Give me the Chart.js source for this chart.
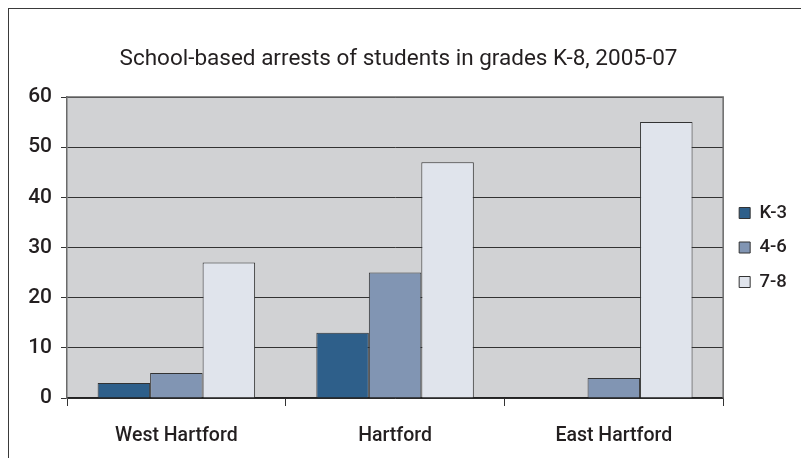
<!DOCTYPE html>
<html>
<head>
<meta charset="utf-8">
<script src="https://cdn.jsdelivr.net/npm/chart.js@4"></script>
<style>
  html, body { margin: 0; padding: 0; background: #fff; }
  #wrap { position: relative; width: 801px; height: 458px; overflow: hidden; }
  #frame { position: absolute; left: 8px; top: 8px; width: 820px; height: 480px;
           border-top: 1.5px solid #3a3a3a; border-left: 1.5px solid #3a3a3a; }
  canvas { position: absolute; left: 0; top: 0; }
</style>
</head>
<body>
<div id="wrap">
  <div id="frame"></div>
  <canvas id="chart" width="801" height="458"></canvas>
</div>
<script>
// ─── Data ─────────────────────────────────────────────────────────────────────
const towns = ['West Hartford', 'Hartford', 'East Hartford'];
const gradeK3 = [3, 13, 0];
const grade46 = [5, 25, 4];
const grade78 = [27, 47, 55];
const yTicks = [0, 10, 20, 30, 40, 50, 60];

// ─── Plot area background + frame ────────────────────────────────────────────
const plotBg = {
  id: 'plotBg',
  beforeDraw(chart) {
    const { ctx, chartArea: a } = chart;
    ctx.save();
    ctx.fillStyle = '#d1d2d4';
    ctx.fillRect(a.left, a.top, a.right - a.left, a.bottom - a.top);
    ctx.restore();
  },
  afterDatasetsDraw(chart) {
    const { ctx, chartArea: a } = chart;
    ctx.save();
    ctx.strokeStyle = '#6a6a6a';
    ctx.lineWidth = 1.5;
    ctx.beginPath();
    ctx.moveTo(a.left, a.top);
    ctx.lineTo(a.right, a.top);
    ctx.lineTo(a.right, a.bottom);
    ctx.stroke();
    ctx.restore();
  }
};

const font = 'Roboto, "DejaVu Sans", sans-serif';

new Chart(document.getElementById('chart'), {
  type: 'bar',
  data: {
    labels: towns,
    datasets: [
      { label: 'K-3', data: gradeK3, backgroundColor: '#2e5f8a' },
      { label: '4-6', data: grade46, backgroundColor: '#8195b3' },
      { label: '7-8', data: grade78, backgroundColor: '#e0e4ec' }
    ]
  },
  options: {
    responsive: false,
    animation: false,
    layout: { padding: { left: 0, right: 4, top: 0, bottom: 0 } },
    datasets: {
      bar: { categoryPercentage: 0.72, barPercentage: 1, borderColor: '#333', borderWidth: 1 }
    },
    plugins: {
      title: {
        display: true,
        text: 'School-based arrests of students in grades K-8, 2005-07',
        color: '#231f20',
        font: { family: font, size: 22.5, weight: 'normal' },
        padding: { top: 46, bottom: 24 }
      },
      legend: {
        position: 'right',
        align: 'center',
        fullSize: false,
        labels: {
          color: '#231f20',
          font: { family: font, size: 18.5, weight: '500' },
          boxWidth: 11,
          boxHeight: 11,
          padding: 16
        }
      },
      tooltip: { enabled: false }
    },
    scales: {
      x: {
        afterFit(scale) { scale.height = 60; },
        grid: { offset: true, drawOnChartArea: false, color: '#333', tickLength: 8 },
        border: { color: '#222', width: 1.5 },
        ticks: { color: '#231f20', padding: 18, font: { family: font, size: 19.5, weight: '500' } }
      },
      y: {
        min: 0,
        max: 60,
        afterFit(scale) { scale.width = 67; },
        afterBuildTicks(scale) { scale.ticks = yTicks.map(v => ({ value: v })); },
        grid: { color: '#333', lineWidth: 1, tickLength: 6 },
        border: { color: '#6a6a6a', width: 1.5 },
        ticks: { color: '#231f20', padding: 9, font: { family: font, size: 21, weight: '500' } }
      }
    }
  },
  plugins: [plotBg]
});
</script>
</body>
</html>
